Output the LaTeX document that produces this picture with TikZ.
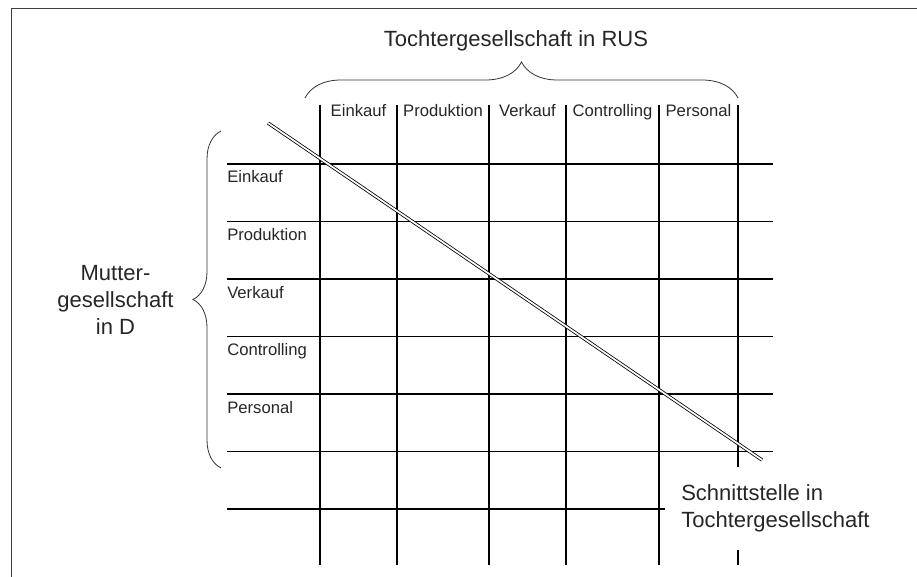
\documentclass[tikz,border=0pt]{standalone}
\usepackage{fontspec}
\setmainfont{Liberation Sans}
\usetikzlibrary{decorations.pathreplacing,positioning}
\tikzset{%
  % Specifications for style of lines and labels:
        gridline/.style = {line width=0.8pt, black},
        bracket/.style  = {line width=0.6pt, black!80, decorate},
        colhead/.style  = {anchor=base, font=\fontsize{12.5}{15}\selectfont, text=black!85, inner sep=0pt},
        rowhead/.style  = {anchor=base west, font=\fontsize{12.5}{15}\selectfont, text=black!85, inner sep=0pt},
        biglabel/.style = {font=\fontsize{16.5}{20}\selectfont, text=black!85, inner sep=0pt},
       interface/.style = {line width=0.6pt, double=white, double distance=1.3pt, black},
}
\begin{document}
\begin{tikzpicture}[x=0.75pt, y=-0.75pt]
  \useasboundingbox (0,0) rectangle (917,577);
  % Frame round the figure
  \draw[line width=1.2pt, black!75] (11.5,577) -- (11.5,8.5) -- (917,8.5);
  % Grid of the matrix
  \foreach \y in {164,221.5,279,336.5,394,451.5}
    \draw[gridline] (227,\y) -- (773,\y);
  \draw[gridline] (227,509) -- (665,509);
  \foreach \x in {320,397,489,566,659}
    \draw[gridline] (\x,105) -- (\x,565);
  \draw[gridline] (738,105) -- (738,467);
  \draw[gridline] (738,550) -- (738,565);
  % Column heads (Tochtergesellschaft)
  \node (cEk) [colhead] at (358.5,117) {Einkauf};
  \node (cPr) [colhead] at (443,117)   {Produktion};
  \node (cVk) [colhead] at (527.5,117) {Verkauf};
  \node (cCt) [colhead] at (612.5,117) {Controlling};
  \node (cPs) [colhead] at (698.5,117) {Personal};
  % Row heads (Muttergesellschaft)
  \node (rEk) [rowhead] at (227,183)   {Einkauf};
  \node (rPr) [rowhead] at (227,240.5) {Produktion};
  \node (rVk) [rowhead] at (227,298)   {Verkauf};
  \node (rCt) [rowhead] at (227,355.5) {Controlling};
  \node (rPs) [rowhead] at (227,413)   {Personal};
  % Braces with their descriptions
  \coordinate (tl) at (305,98);
  \coordinate (tr) at (738,98);
  \coordinate (lb) at (221,468);
  \coordinate (lt) at (221,131);
  \draw[bracket, decoration={brace, amplitude=27pt}] (tl) -- (tr);
  \draw[bracket, decoration={brace, amplitude=21pt}] (lb) -- (lt);
  \node (tochter) [biglabel, anchor=base] at (516,46.5) {Tochtergesellschaft in RUS};
  \node (mutter) [biglabel, align=center, anchor=base] at (115.5,334) {Mutter-\\gesellschaft\\in D};
  % Interface line across the matrix
  \coordinate (ifA) at (268,123);
  \coordinate (ifB) at (762,460);
  \draw[interface] (ifA) -- (ifB);
  \node (schnitt) [biglabel, align=left, anchor=base west] at (681,527.5) {Schnittstelle in\\Tochtergesellschaft};
\end{tikzpicture}
\end{document}
